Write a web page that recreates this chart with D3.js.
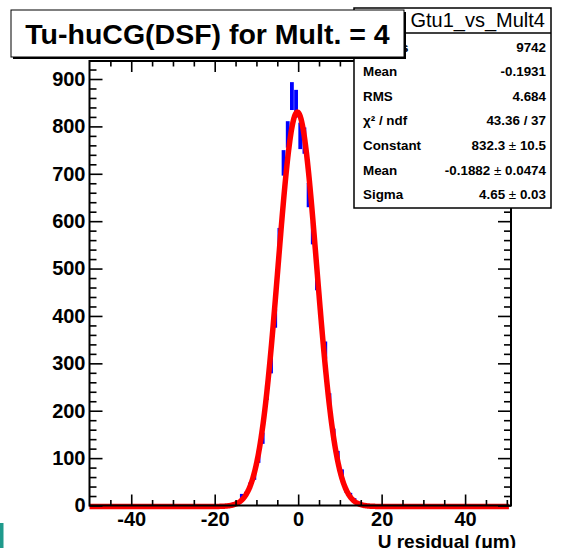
<!DOCTYPE html>
<html>
<head>
<meta charset="utf-8">
<script src="https://cdn.jsdelivr.net/npm/d3@7"></script>
<style>
  html, body { margin: 0; padding: 0; background: #fff; }
  svg { display: block; font-family: "Liberation Sans", Arial, Helvetica, sans-serif; }
</style>
</head>
<body>
<svg id="chart" width="568" height="548"></svg>
<script>
// ---------------------------------------------------------------------------
// Data
// ---------------------------------------------------------------------------
const binStart = -24.5;          // centre of first listed bin, bin width 1
const binCounts = [
  0, 0, 0, 1, 0, 1, 0, 1, 2, 4,          // -24.5 .. -15.5
  7, 20, 24, 42, 62, 100, 142, 238, 296, 395, // -14.5 .. -5.5
  562, 723, 783, 864, 848,               // -4.5 .. -0.5
  780, 770, 655, 575, 476,               //  0.5 ..  4.5
  395, 328, 222, 150, 105, 68, 33, 22, 12, 6, //  5.5 .. 14.5
  3, 2, 1, 0, 1, 0, 0, 1, 0, 0            // 15.5 .. 24.5
];

// gaus fit
const fitConstant = 832.3;
const fitMean = -0.1882;
const fitSigma = 4.65;

const xTickLabels = [-40, -20, 0, 20, 40];
const yTickLabels = [0, 100, 200, 300, 400, 500, 600, 700, 800, 900];

const titleText = "Tu-huCG(DSF) for Mult. = 4";
const statsName = "Gtu1_vs_Mult4";
const statsRows = [
  ["Entries", "9742"],
  ["Mean", "-0.1931"],
  ["RMS", "4.684"],
  ["\u03c7\u00b2 / ndf", "43.36 / 37"],
  ["Constant", "832.3 \u00b1 10.5"],
  ["Mean", "-0.1882 \u00b1 0.0474"],
  ["Sigma", "4.65 \u00b1 0.03"]
];

// ---------------------------------------------------------------------------
// Layout
// ---------------------------------------------------------------------------
const frame = { left: 89.5, right: 511, top: 61, bottom: 505.5 };

const x = d3.scaleLinear().domain([-50, 51]).range([frame.left, frame.right]);
const y = d3.scaleLinear().domain([0, 938]).range([frame.bottom, frame.top]);

const svg = d3.select("#chart");

const bins = binCounts.map((c, i) => ({ x: binStart + i, n: c }));

// --- histogram error bars (blue)
svg.append("g")
  .selectAll("rect")
  .data(bins.filter(d => d.n > 0))
  .join("rect")
  .attr("x", d => x(d.x) - 1.9)
  .attr("width", 3.8)
  .attr("y", d => y(d.n + Math.sqrt(d.n)))
  .attr("height", d => y(d.n - Math.sqrt(d.n)) - y(d.n + Math.sqrt(d.n)))
  .attr("fill", "#0000ff");

// --- fit curve (red)
const fitPts = d3.range(-50, 50.6, 0.1).map(v => [v, fitConstant * Math.exp(-0.5 * ((v - fitMean) / fitSigma) ** 2)]);
svg.append("path")
  .datum(fitPts)
  .attr("fill", "none")
  .attr("stroke", "#ff0000")
  .attr("stroke-width", 5.5)
  .attr("stroke-linejoin", "round")
  .attr("d", d3.line().x(d => x(d[0])).y(d => y(d[1]) + 1));

// --- frame
svg.append("rect")
  .attr("x", frame.left).attr("y", frame.top)
  .attr("width", frame.right - frame.left).attr("height", frame.bottom - frame.top)
  .attr("fill", "none").attr("stroke", "#000").attr("stroke-width", 2);

// --- ticks (ROOT style, pointing inward, on all four sides)
const xMajor = d3.range(-40, 51, 20);
const xMinor = d3.range(-45, 51, 5).filter(v => !xMajor.includes(v));
const yMajor = yTickLabels;
const yMinor = d3.range(20, 938, 20).filter(v => v % 100 !== 0);

function tickAxis(axisFn, scale, values, size, transform) {
  const g = svg.append("g").attr("transform", transform)
    .call(axisFn(scale).tickValues(values).tickSize(size).tickFormat(""));
  g.select(".domain").remove();
  g.selectAll("line").attr("stroke", "#000").attr("stroke-width", 1.6);
}
tickAxis(d3.axisTop, x, xMajor, 11, `translate(0,${frame.bottom})`);
tickAxis(d3.axisTop, x, xMinor, 5.5, `translate(0,${frame.bottom})`);
tickAxis(d3.axisBottom, x, xMajor, 11, `translate(0,${frame.top})`);
tickAxis(d3.axisBottom, x, xMinor, 5.5, `translate(0,${frame.top})`);
tickAxis(d3.axisRight, y, yMajor, 13, `translate(${frame.left},0)`);
tickAxis(d3.axisRight, y, yMinor, 7, `translate(${frame.left},0)`);
tickAxis(d3.axisLeft, y, yMajor, 13, `translate(${frame.right},0)`);
tickAxis(d3.axisLeft, y, yMinor, 7, `translate(${frame.right},0)`);

// --- tick labels (plain hyphen like the original)
const xLab = svg.append("g").attr("transform", `translate(0,${frame.bottom})`)
  .call(d3.axisBottom(x).tickValues(xTickLabels).tickSize(0).tickPadding(6).tickFormat(d => String(d)));
xLab.select(".domain").remove();
xLab.selectAll("text")
  .attr("font-family", "Liberation Sans, Arial, sans-serif")
  .attr("font-size", 20).attr("font-weight", "bold").attr("fill", "#000");

const yLab = svg.append("g").attr("transform", `translate(${frame.left},0)`)
  .call(d3.axisLeft(y).tickValues(yTickLabels).tickSize(0).tickPadding(4).tickFormat(d => String(d)));
yLab.select(".domain").remove();
yLab.selectAll("text")
  .attr("font-family", "Liberation Sans, Arial, sans-serif")
  .attr("font-size", 20).attr("font-weight", "bold").attr("fill", "#000");

// --- axis title (runs off the bottom edge, as in the original)
svg.append("text")
  .attr("x", 516).attr("y", 547.5)
  .attr("text-anchor", "end")
  .attr("font-size", 19).attr("font-weight", "bold")
  .text("U residual (\u03bcm)");

// --- stats box
const sb = { x: 354, y: 8, w: 197, h: 200, head: 25 };
svg.append("rect")
  .attr("x", sb.x).attr("y", sb.y).attr("width", sb.w).attr("height", sb.h)
  .attr("fill", "#fff").attr("stroke", "#000").attr("stroke-width", 1.5);
svg.append("line")
  .attr("x1", sb.x).attr("x2", sb.x + sb.w)
  .attr("y1", sb.y + sb.head).attr("y2", sb.y + sb.head)
  .attr("stroke", "#000").attr("stroke-width", 1.5);
svg.append("text")
  .attr("x", 545).attr("y", 26.5)
  .attr("text-anchor", "end")
  .attr("font-size", 20)
  .text(statsName);

const rows = svg.append("g").selectAll("g")
  .data(statsRows)
  .join("g")
  .attr("transform", (d, i) => `translate(0,${51.5 + i * 24.6})`);
rows.append("text")
  .attr("x", 363)
  .attr("font-size", 13.4).attr("font-weight", "bold")
  .text(d => d[0]);
rows.append("text")
  .attr("x", 546).attr("text-anchor", "end")
  .attr("font-size", 13.4).attr("font-weight", "bold")
  .each(function (d) {
    const parts = d[1].split("\u00b1");
    const t = d3.select(this);
    t.append("tspan").text(parts[0]);
    if (parts.length > 1) {
      t.append("tspan").attr("font-weight", "normal").text("\u00b1");
      t.append("tspan").text(parts[1]);
    }
  });

// --- title box (drawn over the stats box, hiding "Entrie")
svg.append("rect")
  .attr("x", 13).attr("y", 12).attr("width", 393).attr("height", 47)
  .attr("fill", "#000");
svg.append("rect")
  .attr("x", 11).attr("y", 10).attr("width", 393).attr("height", 47)
  .attr("fill", "#fff").attr("stroke", "#000").attr("stroke-width", 1);
svg.append("text")
  .attr("x", 207.5).attr("y", 44)
  .attr("text-anchor", "middle")
  .attr("font-size", 28.5).attr("font-weight", "bold")
  .text(titleText);

// --- slide edge mark, bottom left
svg.append("rect")
  .attr("x", 0).attr("y", 523).attr("width", 3.5).attr("height", 25)
  .attr("fill", "#1f9a8c");
</script>
</body>
</html>
